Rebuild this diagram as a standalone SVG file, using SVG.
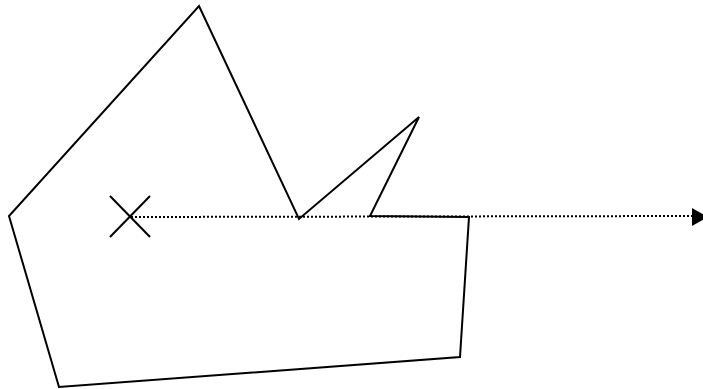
<svg xmlns="http://www.w3.org/2000/svg" width="703" height="389" viewBox="0 0 703 389">
<style>
.shape{fill:none;stroke:#000;stroke-width:2;stroke-linejoin:miter}
.dot{fill:none;stroke:#000;stroke-width:2;stroke-dasharray:2 2}
</style>
<rect width="703" height="389" fill="#fff"/>
<g id="polygon">
<polygon class="shape" points="199,6 299,219 419,117 370,216 469,217 460,357 59,387 9,216"/>
</g>
<g id="cross">
<line class="shape" x1="110" y1="196" x2="150" y2="237"/>
<line class="shape" x1="110" y1="237" x2="150" y2="196"/>
</g>
<g id="connectors">
<line class="dot" x1="131" y1="217" x2="692" y2="216"/>
<polygon points="692,208 708,217 692,226" fill="#000"/>
</g>
</svg>
